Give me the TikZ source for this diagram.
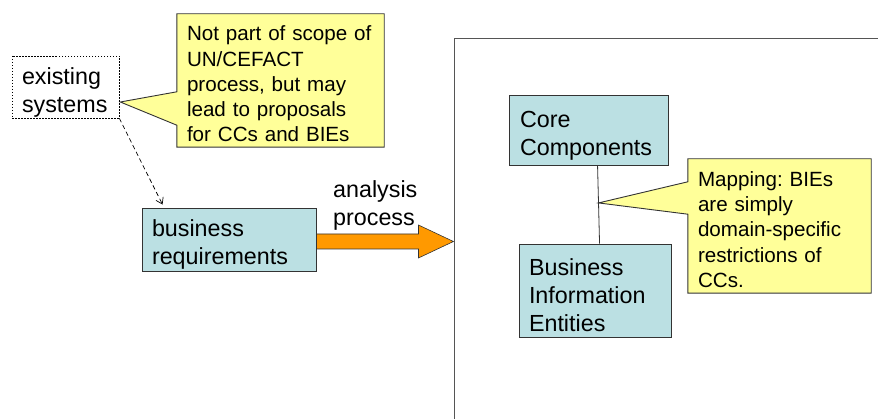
\documentclass[tikz,border=0pt]{standalone}
\usepackage{fontspec}
\setmainfont{Liberation Sans}
\usetikzlibrary{calc,backgrounds,arrows.meta}
\definecolor{boxteal}{HTML}{BBE0E3}
\definecolor{noteyellow}{HTML}{FFFF99}
\definecolor{floworange}{HTML}{FF9900}
\definecolor{edgegray}{HTML}{333333}
\definecolor{framegray}{HTML}{555555}
% taller first line, so the text sits a little below the box centre
\newcommand{\bigtop}{\rule{0pt}{27pt}}
\newcommand{\notetop}{\rule{0pt}{22pt}}

\begin{document}
\frenchspacing
\begin{tikzpicture}[x=1pt,y=-1pt,
  bigtext/.style={font=\fontsize{23.3}{28}\selectfont},
  notetext/.style={font=\fontsize{20.6}{25.3}\selectfont},
  tealbox/.style={draw=edgegray, fill=boxteal, line width=0.9pt, bigtext,
    align=left, inner ysep=0pt},
  notebody/.style={notetext, align=left, inner ysep=0pt},
  noteshape/.style={draw=edgegray, fill=noteyellow, line width=0.9pt, line join=miter},
  flowarrow/.style={draw=edgegray, fill=floworange, line width=0.6pt, line join=miter},
  framestyle/.style={draw=framegray, line width=1pt},
  hint/.style={draw=black, line width=0.7pt, dash pattern=on 4.5pt off 3pt,
    -{Straight Barb[length=6pt,width=8pt]}}
]
\useasboundingbox (0,0) rectangle (878,419);

% outer frame of the library area
\draw[framestyle] (878,39) -- (454,39) -- (454,419);

% left part: sources of requirements
\node[bigtext, draw=black, line width=0.6pt, dash pattern=on 1.5pt off 1.5pt,
      align=left, inner xsep=10pt, inner ysep=0pt, text width=87pt,
      minimum width=107pt, minimum height=62pt] (exist) at (65.5,87)
      {\bigtop existing\\systems};

\node[notebody, inner xsep=10pt, text width=187pt,
      minimum width=207pt, minimum height=133pt] (n1) at (280.5,80.5)
      {\notetop Not part of scope of\\UN/CEFACT\\process, but may\\lead to proposals\\for CCs and BIEs};
\coordinate (tip1) at ($(exist.east)+(1,15)$);

\node[tealbox, inner xsep=10pt, text width=154pt,
      minimum width=174pt, minimum height=63pt] (br) at (229,239.5)
      {\bigtop business\\requirements};

\draw[hint] (exist.south east) -- ($(br.north west)+(21,-3)$);

% analysis arrow
\coordinate (a0) at ($(br.east)+(0,2)$);
\draw[flowarrow] ($(a0)+(0,-7.5)$) -- ++(102,0) -- ++(0,-9) -- ++(35,16.5)
   -- ++(-35,16.5) -- ++(0,-9) -- ++(-102,0) -- cycle;
\node[bigtext, align=left, inner sep=0pt, anchor=north west] (ap) at (333,180)
      {analysis\\process};

% right part: core components and business information entities
\node[tealbox, inner xsep=11pt, text width=137pt,
      minimum width=159pt, minimum height=70pt] (cc) at (588.5,130)
      {\bigtop Core\\Components};
\node[tealbox, inner xsep=10pt, text width=132pt,
      minimum width=152pt, minimum height=93pt] (bie) at (595,290.5)
      {\bigtop Business\\Information\\Entities};

\coordinate (ccb) at ($(cc.south west)+(89,0)$);
\coordinate (bit) at ($(bie.north west)+(81,0)$);
\draw[edgegray, line width=0.8pt] (ccb) -- (bit);
\coordinate (tip2) at ($(ccb)!0.48!(bit)$);

\node[notebody, inner xsep=10pt, text width=163pt,
      minimum width=183pt, minimum height=134pt] (n2) at (779.5,226)
      {\notetop Mapping: BIEs\\are simply\\domain-specific\\restrictions of\\CCs.};

% callout outlines behind their texts
\begin{scope}[on background layer]
  \draw[noteshape] (n1.north west) -- (n1.north east) -- (n1.south east)
    -- (n1.south west) -- ($(n1.south west)+(0,-22)$) -- (tip1)
    -- ($(n1.north west)+(0,78)$) -- cycle;
  \draw[noteshape] (n2.north west) -- (n2.north east) -- (n2.south east)
    -- (n2.south west) -- ($(n2.south west)+(0,-79)$) -- (tip2)
    -- ($(n2.north west)+(0,23)$) -- cycle;
\end{scope}
\end{tikzpicture}
\end{document}
